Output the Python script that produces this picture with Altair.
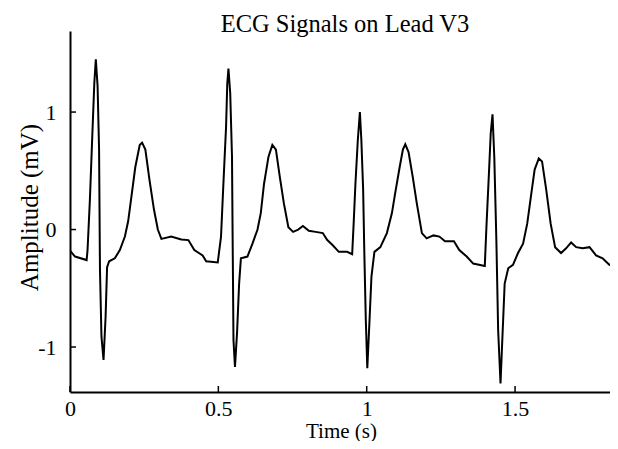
import altair as alt
import pandas as pd

# ECG trace (time in s, amplitude in mV)
time_s = [
    0.000, 0.017, 0.056, 0.059, 0.067, 0.075, 0.082, 0.087, 0.093, 0.098,
    0.101, 0.106, 0.113, 0.120, 0.125, 0.132, 0.151, 0.168, 0.185, 0.196,
    0.207, 0.220, 0.235, 0.243, 0.254, 0.268, 0.283, 0.296, 0.308, 0.341,
    0.375, 0.399, 0.419, 0.447, 0.459, 0.498,
    0.509, 0.517, 0.526, 0.530, 0.534, 0.540, 0.546, 0.548, 0.551, 0.556,
    0.563, 0.570, 0.576, 0.598, 0.615, 0.632, 0.643, 0.654, 0.669, 0.682,
    0.694, 0.707, 0.721, 0.736, 0.752, 0.769, 0.785, 0.805, 0.828, 0.852,
    0.867, 0.884, 0.906, 0.934, 0.951,
    0.956, 0.962, 0.970, 0.977, 0.982, 0.988, 0.992, 0.997, 1.002, 1.009,
    1.016, 1.026, 1.046, 1.068, 1.085, 1.096, 1.111, 1.122, 1.130, 1.141,
    1.155, 1.169, 1.186, 1.202, 1.225, 1.245, 1.264, 1.294, 1.312, 1.337,
    1.359, 1.398,
    1.404, 1.412, 1.418, 1.424, 1.430, 1.437, 1.443, 1.451, 1.457, 1.465,
    1.477, 1.493, 1.510, 1.527, 1.541, 1.555, 1.566, 1.580, 1.591, 1.605,
    1.620, 1.635, 1.655, 1.672, 1.689, 1.706, 1.728, 1.751, 1.773, 1.795,
    1.818, 1.834,
]
amplitude_mv = [
    -0.18, -0.23, -0.26, -0.18, 0.25, 0.79, 1.25, 1.45, 1.22, 0.68,
    -0.34, -0.91, -1.11, -0.74, -0.32, -0.27, -0.245, -0.175, -0.06, 0.07,
    0.28, 0.53, 0.72, 0.74, 0.68, 0.42, 0.17, 0.00, -0.08, -0.06,
    -0.085, -0.09, -0.175, -0.22, -0.27, -0.28,
    -0.06, 0.39, 0.875, 1.24, 1.37, 1.16, 0.62, -0.03, -0.94, -1.17,
    -0.88, -0.46, -0.245, -0.23, -0.12, 0.00, 0.14, 0.39, 0.62, 0.72,
    0.68, 0.45, 0.22, 0.02, -0.02, 0.00, 0.03, -0.01, -0.02, -0.03,
    -0.09, -0.13, -0.19, -0.19, -0.21,
    0.05, 0.39, 0.76, 1.00, 0.76, 0.34, -0.20, -0.77, -1.18, -0.80,
    -0.40, -0.19, -0.15, -0.03, 0.14, 0.31, 0.53, 0.68, 0.725, 0.66,
    0.45, 0.22, -0.03, -0.075, -0.05, -0.06, -0.10, -0.10, -0.175, -0.23,
    -0.29, -0.31,
    0.05, 0.48, 0.82, 0.98, 0.62, -0.09, -0.855, -1.31, -0.94, -0.46,
    -0.33, -0.30, -0.20, -0.12, 0.05, 0.31, 0.51, 0.605, 0.58, 0.34,
    0.05, -0.15, -0.20, -0.16, -0.11, -0.15, -0.16, -0.15, -0.22, -0.245,
    -0.30, -0.29,
]

x_ticks = [0, 0.5, 1, 1.5]
x_tick_labels = ["0", "0.5", "1", "1.5"]
y_ticks = [-1, 0, 1]
y_tick_labels = ["-1", "0", "1"]
x_domain = [0, 1.82]
y_domain = [-1.383, 1.69]

df = pd.DataFrame({"t": time_s, "v": amplitude_mv})
xt = pd.DataFrame({"t": x_ticks})
yt = pd.DataFrame({"v": y_ticks})

W, H = 540, 361
FONT = "Liberation Serif"


def label_expr(vals, labels):
    return "[" + ",".join("'%s'" % l for l in labels) + "][indexof([" + ",".join(str(v) for v in vals) + "], datum.value)]"


xscale = alt.Scale(domain=x_domain, nice=False, zero=False)
yscale = alt.Scale(domain=y_domain, nice=False, zero=False)

xaxis = alt.Axis(
    values=x_ticks,
    labelExpr=label_expr(x_ticks, x_tick_labels),
    title="Time (s)",
    titleFontSize=21,
    titleX=271,
    titleY=45,
    titleAlign="center",
    titleBaseline="alphabetic",
    labelPadding=6,
)
yaxis = alt.Axis(
    values=y_ticks,
    labelExpr=label_expr(y_ticks, y_tick_labels),
    title="Amplitude (mV)",
    titleFontSize=25,
    titleX=-33,
    titleY=176,
    titleAngle=270,
    titleAlign="center",
    titleBaseline="alphabetic",
    labelPadding=14,
)

line = alt.Chart(df).mark_line(color="black", strokeWidth=2, clip=True).encode(
    x=alt.X("t:Q", scale=xscale, axis=xaxis),
    y=alt.Y("v:Q", scale=yscale, axis=yaxis),
    order="t:Q",
)

xtick_rules = alt.Chart(xt).mark_rule(color="black", strokeWidth=1.5).encode(
    x=alt.X("t:Q", scale=xscale, axis=xaxis),
    y=alt.value(H),
    y2=alt.value(H - 6),
)

ytick_rules = alt.Chart(yt).mark_rule(color="black", strokeWidth=1.5).encode(
    y=alt.Y("v:Q", scale=yscale, axis=yaxis),
    x=alt.value(0),
    x2=alt.value(6),
)

chart = (
    alt.layer(line, xtick_rules, ytick_rules)
    .properties(
        width=W,
        height=H,
        padding={"left": 62, "top": 23, "right": 0, "bottom": 49},
        autosize=alt.AutoSizeParams(type="none"),
        title=alt.TitleParams(
            text="ECG Signals on Lead V3",
            font=FONT,
            fontSize=24.5,
            fontWeight="normal",
            color="black",
            anchor="middle",
            baseline="alphabetic",
            offset=0,
            dx=5,
            dy=25,
        ),
    )
    .configure_view(stroke="transparent")
    .configure_axis(
        grid=False,
        ticks=False,
        tickSize=0,
        domainColor="black",
        domainWidth=2,
        labelFont=FONT,
        labelFontSize=22,
        labelColor="black",
        titleFont=FONT,
        titleFontWeight="normal",
        titleColor="black",
    )
    .configure_axisY(labelBaseline="middle", labelAlign="right")
    .configure_axisX(labelBaseline="top", labelAlign="center")
)

chart.save("out.html", embed_options={"renderer": "svg", "actions": False})
